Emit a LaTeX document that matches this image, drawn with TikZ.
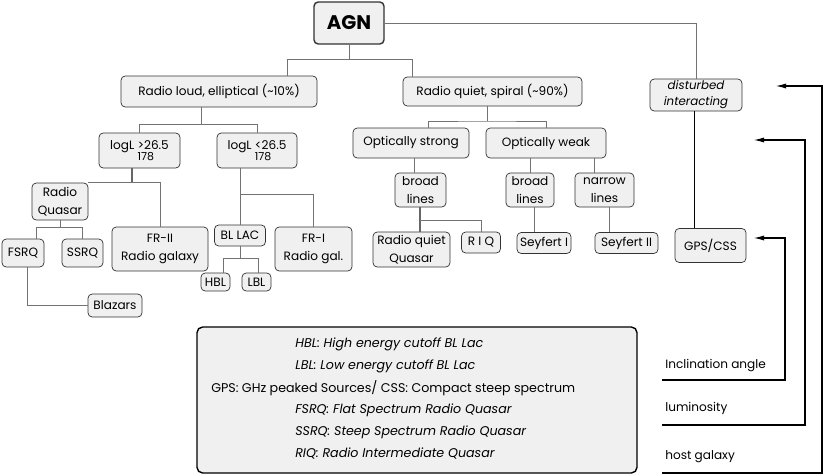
\documentclass[tikz,border=0pt]{standalone}
\usepackage{fontspec}
\setmainfont{Poppins}
\usetikzlibrary{arrows.meta}

\newcommand{\logsub}[1]{logL\ \rlap{\raisebox{-1.7ex}{\fontsize{7.8}{9}\selectfont 178}}#1}

\begin{document}
\begin{tikzpicture}[
  x=0.025cm, y=-0.025cm,
  box/.style={draw=black!80, fill=agnfill, rounded corners=3pt, line width=0.5pt,
    inner sep=0pt, align=center, font=\fontsize{8.6}{12.5}\selectfont},
  sz/.style 2 args={minimum width=#1*0.025cm, minimum height=#2*0.025cm},
  conn/.style={draw=black!55, line width=0.5pt},
  thk/.style={draw=black!60, line width=1.3pt},
  blk/.style={draw=black, line width=0.6pt},
  arr/.style={draw=black, line width=1.1pt, -{Latex[length=2.8mm,width=1.3mm]}},
  lab/.style={font=\fontsize{8.6}{10}\selectfont, anchor=south west, inner sep=0pt},
  leg/.style={font=\fontsize{9}{11}\selectfont\itshape, anchor=west, inner sep=0pt}
]
\definecolor{agnfill}{RGB}{240,240,240}
\useasboundingbox (0,0) rectangle (830,475);

% tree nodes
\node[box, sz={70}{42}, line width=1pt, font=\fontsize{14}{16}\selectfont\bfseries] (agn) at (349,23) {AGN};
\node[box, sz={196}{31}] (loud) at (219,91.5) {Radio loud, elliptical (\textasciitilde10\%)};
\node[box, sz={179}{29}] (quiet) at (492.5,91.5) {Radio quiet, spiral (\textasciitilde90\%)};
\node[box, sz={92}{32}, font=\fontsize{8.4}{11.5}\selectfont\itshape] (dist) at (696,95) {disturbed\\interacting};

\node[box, sz={81}{35}] (lgt) at (139.5,150.5) {\logsub{>26.5}};
\node[box, sz={80}{35}] (llt) at (257,150.5) {\logsub{<26.5}};
\node[box, sz={56}{37}] (rq) at (60,201.5) {Radio\\Quasar};
\node[box, sz={96}{44}] (fr2) at (160,249) {FR-II\\Radio galaxy};
\node[box, sz={42}{28}] (fsrq) at (23,253) {FSRQ};
\node[box, sz={41}{28}] (ssrq) at (82.5,253) {SSRQ};
\node[box, sz={54}{23}] (blaz) at (115,305.5) {Blazars};
\node[box, sz={51}{21}] (bllac) at (240,235.5) {BL LAC};
\node[box, sz={77}{44}] (fr1) at (313.5,249) {FR-I\\Radio gal.};
\node[box, sz={29}{18}] (hbl) at (215.5,282) {HBL};
\node[box, sz={29}{18}] (lbl) at (256.5,282) {LBL};

\node[box, sz={116}{30}] (ostrong) at (411,143) {Optically strong};
\node[box, sz={120}{30}] (oweak) at (546,143) {Optically weak};
\node[box, sz={51}{34}] (bl1) at (420.5,190) {broad\\lines};
\node[box, sz={48}{34}] (bl2) at (530,190) {broad\\lines};
\node[box, sz={59}{34}] (nl) at (604.5,190) {narrow\\lines};
\node[box, sz={77}{35}] (rqq) at (411.5,249.5) {Radio quiet\\Quasar};
\node[box, sz={39}{21}] (riq) at (481,242.5) {R I Q};
\node[box, sz={54}{21}] (sey1) at (544,243) {Seyfert I};
\node[box, sz={63}{21}] (sey2) at (626.5,243) {Seyfert II};
\node[box, sz={71}{34}] (gps) at (710.5,245.5) {GPS/CSS};

% connectors
\draw[conn] (agn) -- (agn |- 0,59) -| (287,0 |- loud.north);
\draw[conn] (agn |- 0,59) -| (412,0 |- quiet.north);
\draw[conn] (agn.east) -| (dist.north);

\draw[conn] (201,0 |- loud.south) -- (201,124) -| (lgt.north);
\draw[conn] (201,124) -| (llt.north);
\draw[thk] (132,0 |- lgt.south) -- (132,0 |- rq.north);
\draw[conn] (rq.north east) -| (fr2.north);
\draw[conn] (rq.south) -- ++(0,7) coordinate (jrq);
\draw[conn] (36,0 |- fsrq.north) |- (jrq) -| (ssrq.north);
\draw[conn] (27,0 |- fsrq.south) |- (blaz.west);
\draw[conn] (bllac.north |- llt.south) -- (bllac.north);
\draw[conn] (bllac.north |- 0,194) -| (fr1.north);
\draw[conn] (bllac.south) -- ++(0,12) coordinate (jbl);
\draw[conn] (223,0 |- hbl.north) |- (jbl) -| (258,0 |- lbl.north);

\draw[conn] (487,0 |- quiet.south) -- (487,121);
\draw[conn] (428,0 |- ostrong.north) |- (487,121) -| (oweak.north);
\draw[conn] (414,0 |- ostrong.south) -- (414,0 |- bl1.north);
\draw[thk] (420,0 |- bl1.south) -- (420,0 |- rqq.north);
\draw[conn] (420,220) -| (riq.north);
\draw[conn] (530,0 |- oweak.south) -- (530,0 |- bl2.north);
\draw[conn] (594,0 |- oweak.south) -- (594,0 |- nl.north);
\draw[conn] (534,0 |- bl2.south) -- (534,0 |- sey1.north);
\draw[conn] (609,0 |- nl.south) -- (609,0 |- sey2.north);
\draw[blk] (694,0 |- dist.south) -- (694,0 |- gps.north);

% parameters
\node[lab] (incl) at (665,372) {Inclination angle};
\node[lab] (lum) at (665,415) {luminosity};
\node[lab] (host) at (665,463) {host galaxy};
\coordinate (tgps) at (753,238);
\coordinate (tnl) at (753,140);
\coordinate (tdist) at (775,86);
\draw[arr] (662,380) -- (785,380) |- (tgps);
\draw[arr] (662,425) -- (805,425) |- (tnl);
\draw[arr] (662,473) -- (822,473) |- (tdist);

% legend
\node[draw=black, line width=1pt, fill=agnfill, rounded corners=4pt, sz={440}{146}, inner sep=0pt] (legend) at (417,400) {};
\foreach \n/\x/\y/\txt in {1/295/344/{HBL: High energy cutoff BL Lac},
                           2/295/366/{LBL: Low energy cutoff BL Lac},
                           4/295/410/{FSRQ: Flat Spectrum Radio Quasar},
                           5/295/432/{SSRQ: Steep Spectrum Radio Quasar},
                           6/295/454/{RIQ: Radio Intermediate Quasar}} {
  \node[leg] (lg\n) at (\x,\y) {\txt};
}
\node[leg, font=\fontsize{9}{11}\selectfont] (lg3) at (211,388) {GPS: GHz peaked Sources/ CSS: Compact steep spectrum};
\end{tikzpicture}
\end{document}
